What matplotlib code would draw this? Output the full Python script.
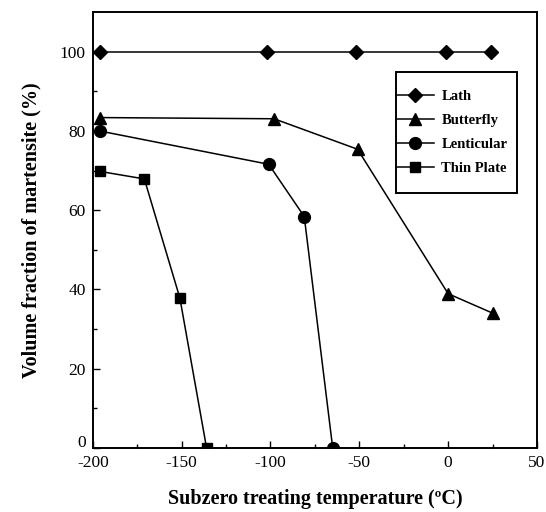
import matplotlib.pyplot as plt
import matplotlib.transforms as mtransforms
from matplotlib.patches import Rectangle

plt.rcParams['font.family'] = ['Liberation Serif', 'DejaVu Serif']
plt.rcParams['axes.unicode_minus'] = False

# data
lath_t = [-196, -102, -52, -1, 24]
lath_v = [100, 100, 100, 100, 100]
butterfly_t = [-196, -98, -51, 0, 25]
butterfly_v = [83.4, 83.1, 75.4, 38.9, 34.0]
lenticular_t = [-196, -101, -81, -65]
lenticular_v = [80.0, 71.6, 58.4, 0]
thin_t = [-196, -171, -151, -136]
thin_v = [69.8, 67.9, 37.8, 0]

fig = plt.figure(figsize=(5.46, 5.12), dpi=100)
ax = fig.add_axes([0.170, 0.1256, 0.8135, 0.8504])

kw = dict(color='black', linewidth=1.1, markeredgecolor='black', markerfacecolor='black')
ax.plot(lath_t, lath_v, marker='D', markersize=7, label='Lath', **kw)
ax.plot(butterfly_t, butterfly_v, marker='^', markersize=8.5, label='Butterfly', **kw)
ax.plot(lenticular_t, lenticular_v, marker='o', markersize=8.5, label='Lenticular', **kw)
ax.plot(thin_t, thin_v, marker='s', markersize=7, label='Thin Plate', **kw)

ax.set_xlim(-200, 50)
ax.set_ylim(0, 110)
ax.set_xticks([-200, -150, -100, -50, 0, 50])
ax.set_xticks([-175, -125, -75, -25, 25], minor=True)
ax.set_yticks([0, 20, 40, 60, 80, 100])
ax.set_yticks([10, 30, 50, 70, 90], minor=True)
ax.tick_params(direction='in', which='major', length=5, width=1, labelsize=12.5)
ax.tick_params(axis='x', which='major', pad=5)
ax.tick_params(axis='y', which='major', pad=5)
ax.tick_params(direction='in', which='minor', length=3, width=1)
for s in ax.spines.values():
    s.set_linewidth(1.4)

# the "0" on the y axis sits a little above the axis line in the original
zero_lbl = ax.get_yticklabels()[0]
zero_lbl.set_transform(zero_lbl.get_transform() +
                       mtransforms.ScaledTranslation(0, 5 / 72, fig.dpi_scale_trans))

ax.set_xlabel('Subzero treating temperature (ºC)', fontsize=14.5, fontweight='bold', labelpad=13)
ax.set_ylabel('Volume fraction of martensite (%)', fontsize=14.5, fontweight='bold', labelpad=13)

# legend box
ax.add_patch(Rectangle((0.683, 0.585), 0.272, 0.278, transform=ax.transAxes,
                       fill=False, edgecolor='black', linewidth=1.4, zorder=5))
leg = ax.legend(loc='center left', bbox_to_anchor=(0.683, 0.724), frameon=False,
                borderpad=0, borderaxespad=0, handlelength=2.6, handletextpad=0.5,
                labelspacing=0.75, prop={'weight': 'bold', 'size': 10.5})

fig.savefig('out.png', dpi=100)
